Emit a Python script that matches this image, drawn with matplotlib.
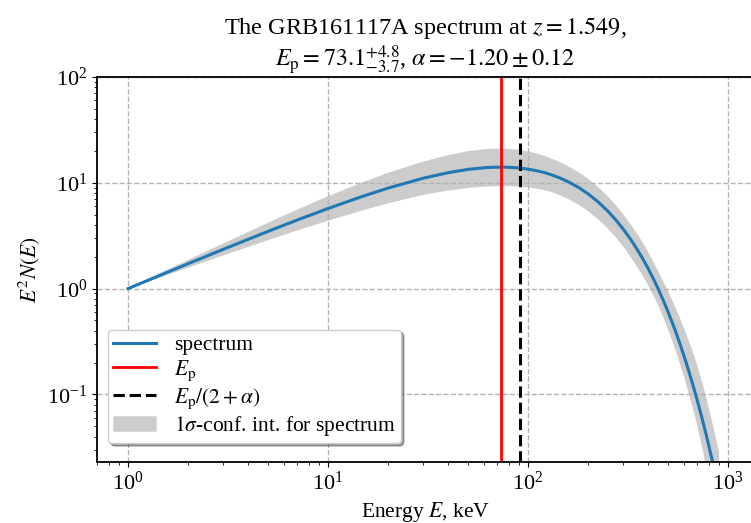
import matplotlib
matplotlib.use("Agg")
import matplotlib.pyplot as plt

plt.rcParams["font.family"] = "serif"
plt.rcParams["font.serif"] = ["Liberation Serif", "DejaVu Serif"]
plt.rcParams["mathtext.fontset"] = "stix"
plt.rcParams["font.size"] = 16

# values
energy = [1, 1.5, 2, 3, 5, 7, 10, 15, 20, 30, 40, 50, 60, 65, 73, 80, 90,
          100, 110, 120, 130, 145, 160, 180, 200, 225, 250, 275, 300, 325,
          350, 375, 400, 425, 450, 475, 500, 525, 550, 575, 600, 625, 650,
          675, 700, 725, 750, 775, 800, 825, 850, 900]
spectrum = [1.000, 1.375, 1.722, 2.356, 3.469, 4.441, 5.718, 7.487, 8.923,
            11.06, 12.48, 13.38, 13.87, 14.00, 14.07, 14.03, 13.82, 13.47,
            13.03, 12.53, 11.97, 11.08, 10.17, 8.984, 7.853, 6.563, 5.432,
            4.458, 3.636, 2.948, 2.380, 1.913, 1.533, 1.223, 0.974, 0.7735,
            0.613, 0.4849, 0.383, 0.3017, 0.237, 0.1866, 0.146, 0.1148,
            0.0899, 0.07031, 0.0549, 0.04291, 0.0335, 0.0261, 0.0204, 0.0123]
band_hi = [1.0, 1.444, 1.860, 2.662, 4.163, 5.551, 7.433, 10.11, 12.40,
           15.82, 18.22, 19.80, 20.67, 20.86, 20.96, 20.84, 20.45, 19.73,
           18.89, 17.98, 17.00, 15.57, 14.14, 12.44, 10.84, 9.02, 7.44, 6.11,
           4.98, 4.07, 3.31, 2.70, 2.18, 1.76, 1.42, 1.16, 0.950, 0.776,
           0.636, 0.522, 0.427, 0.349, 0.285, 0.233, 0.189, 0.150, 0.120,
           0.0948, 0.0747, 0.0586, 0.0461, 0.0283]
band_lo = [1.0, 1.313, 1.584, 2.073, 2.879, 3.553, 4.403, 5.540, 6.425,
           7.742, 8.486, 8.965, 9.224, 9.31, 9.357, 9.36, 9.259, 9.09, 8.860,
           8.58, 8.259, 7.65, 7.017, 6.20, 5.419, 4.53, 3.748, 3.08, 2.509,
           2.03, 1.642, 1.33, 1.073, 0.862, 0.692, 0.541, 0.423, 0.330,
           0.257, 0.199, 0.154, 0.118, 0.0905, 0.0695, 0.0530, 0.0397,
           0.0296, 0.0219, 0.0161, 0.0119, 0.00877, 0.00467]
e_peak = 73.1
e_cut = 91.375  # Ep / (2 + alpha)

fig = plt.figure(figsize=(7.51, 5.23), dpi=100)
ax = fig.add_axes([97 / 751, 61 / 523, 656 / 751, 385 / 523])

ax.fill_between(energy, band_lo, band_hi, color="0.8", lw=0.5,
                edgecolor="0.75", linestyle=":",
                label=r"$1\sigma$-conf. int. for spectrum")
ax.plot(energy, spectrum, color="#1f77b4", lw=2.2, label="spectrum")
ax.axvline(e_peak, color="red", lw=2, label=r"$E_{\mathrm{p}}$")
ax.axvline(e_cut, color="black", lw=2.2, ls="--",
           label=r"$E_{\mathrm{p}}/(2+\alpha)$")

ax.set_xscale("log")
ax.set_yscale("log")
ax.set_xlim(0.70, 1334)
ax.set_ylim(0.023, 100)
ax.grid(True, which="major", ls="--", color="0.7", lw=1)
for s in ax.spines.values():
    s.set_linewidth(1.3)
ax.tick_params(labelsize=16)

ax.set_xlabel(r"Energy $E$, keV", fontsize=15.5)
ax.set_ylabel(r"$E^2N(E)$", fontsize=15.5)
ax.set_title("The GRB161117A spectrum at $z=1.549$,\n"
             r"$E_{\mathrm{p}}=73.1^{+4.8}_{-3.7}$, $\alpha=-1.20\pm0.12$",
             fontsize=17.5, linespacing=1.1)

handles, labels = ax.get_legend_handles_labels()
order = [1, 2, 3, 0]
ax.legend([handles[i] for i in order], [labels[i] for i in order],
          loc="lower left", bbox_to_anchor=(0.0168, 0.049), borderaxespad=0,
          fancybox=True, shadow=True, framealpha=1,
          fontsize=15.5, labelspacing=0.15, borderpad=0.25)

fig.savefig("out.png", dpi=100)
